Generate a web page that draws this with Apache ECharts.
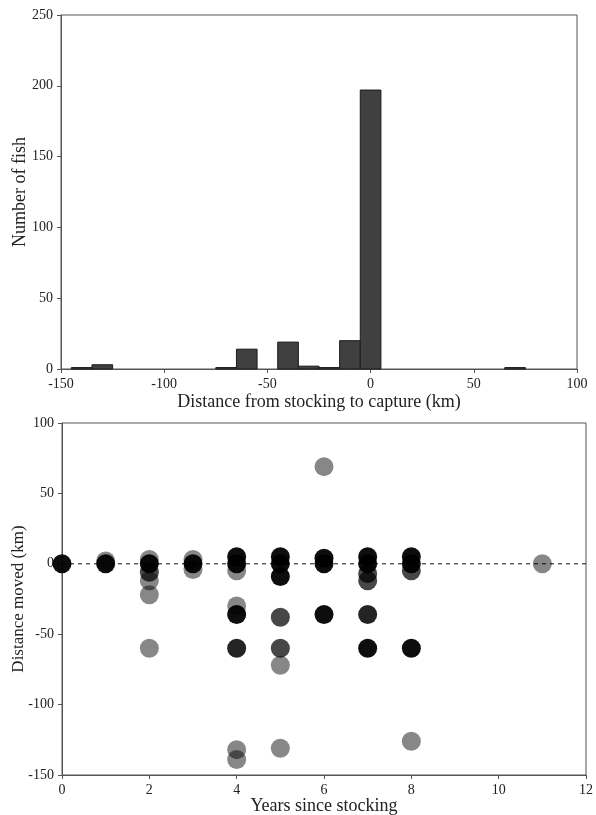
<!DOCTYPE html>
<html>
<head>
<meta charset="utf-8">
<script src="https://cdn.jsdelivr.net/npm/echarts@6/dist/echarts.min.js"></script>
<style>
  html, body { margin: 0; padding: 0; background: #fff; }
  #chart { width: 596px; height: 815px; }
</style>
</head>
<body>
<div id="chart"></div>
<script>
// Histogram: 10 km bins, labelled by bin centre (km)
const binCentres = [-140, -130, -70, -60, -40, -30, -20, -10, 0, 70];
const fishCounts = [1, 3, 1, 14, 19, 2, 1, 20, 197, 1];
const binWidth = 10;

// Distance moved (km) against years since stocking, split by shade group
const movesLight = [[1, 2], [2, 3], [2, -12], [2, -22], [2, -60], [3, 3], [3, -4],
  [4, -5], [4, -30], [4, -132], [4, -139], [5, -72], [5, -131], [6, 69], [8, -126], [11, 0]];
const movesMid = [[2, -6], [5, -38], [5, -60], [7, -7], [7, -12], [8, -5]];
const movesDeep = [[4, -60], [7, -36]];
const movesDark = [[0, 0], [1, 0], [2, 0], [3, 0], [4, 5], [4, 0], [4, -36], [5, 5], [5, 0],
  [5, -9], [6, 4], [6, 0], [6, -36], [7, 5], [7, 0], [7, -60], [8, 5], [8, 0], [8, -60]];

// Zero-movement reference line
const zeroLine = [[0, 0], [12, 0]];

const histTicks = { min: -150, max: 100, interval: 50 };
const countTicks = { min: 0, max: 250, interval: 50 };
const yearTicks = { min: 0, max: 12, interval: 2 };
const moveTicks = { min: -150, max: 100, interval: 50 };

const FONT = '"Liberation Serif", "DejaVu Serif", serif';
const axisColor = '#555';
const textColor = '#222';

function axisBase(extra, nameSize) {
  return Object.assign({
    axisLine: { show: true, onZero: false, lineStyle: { color: axisColor, width: 1 } },
    axisTick: { show: true, inside: false, length: 4, lineStyle: { color: axisColor } },
    axisLabel: { color: textColor, fontFamily: FONT, fontSize: 14, margin: 8 },
    splitLine: { show: false },
    nameTextStyle: { color: textColor, fontFamily: FONT, fontSize: nameSize || 18 },
    nameLocation: 'middle',
    nameMoveOverlap: false
  }, extra);
}

const chart = echarts.init(document.getElementById('chart'), null, { renderer: 'canvas' });

const histData = binCentres.map((c, i) => [c, fishCounts[i]]);

function scatterSeries(name, data, alpha, z) {
  return {
    name: name, type: 'scatter', xAxisIndex: 1, yAxisIndex: 1,
    data: data, symbolSize: 19, clip: true,
    itemStyle: { color: 'rgba(0,0,0,' + alpha + ')', opacity: 1 },
    emphasis: { disabled: true },
    z: z
  };
}

const option = {
  animation: false,
  backgroundColor: '#fff',
  grid: [
    { left: 61, right: 19, top: 15, bottom: 446, show: true, borderColor: axisColor, borderWidth: 1,
      backgroundColor: 'transparent', outerBoundsMode: 'none', containLabel: false },
    { left: 62, right: 10, top: 423, bottom: 40, show: true, borderColor: axisColor, borderWidth: 1,
      backgroundColor: 'transparent', outerBoundsMode: 'none', containLabel: false }
  ],
  xAxis: [
    axisBase({ gridIndex: 0, type: 'value', min: histTicks.min, max: histTicks.max, interval: histTicks.interval,
      name: 'Distance from stocking to capture (km)', nameGap: 24 }),
    axisBase({ gridIndex: 1, type: 'value', min: yearTicks.min, max: yearTicks.max, interval: yearTicks.interval,
      name: 'Years since stocking', nameGap: 22 })
  ],
  yAxis: [
    axisBase({ gridIndex: 0, type: 'value', min: countTicks.min, max: countTicks.max, interval: countTicks.interval,
      name: 'Number of fish', nameGap: 32 }),
    axisBase({ gridIndex: 1, type: 'value', min: moveTicks.min, max: moveTicks.max, interval: moveTicks.interval,
      name: 'Distance moved (km)', nameGap: 35 }, 17)
  ],
  series: [
    {
      type: 'custom',
      xAxisIndex: 0, yAxisIndex: 0,
      data: histData,
      encode: { x: 0, y: 1 },
      renderItem: function (params, api) {
        const c = api.value(0), n = api.value(1);
        const p0 = api.coord([c - binWidth / 2, 0]);
        const p1 = api.coord([c + binWidth / 2, n]);
        return {
          type: 'rect',
          shape: { x: p0[0], y: p1[1], width: p1[0] - p0[0], height: p0[1] - p1[1] },
          style: { fill: '#404040', stroke: '#1a1a1a', lineWidth: 1 }
        };
      }
    },
    {
      type: 'line',
      xAxisIndex: 1, yAxisIndex: 1,
      data: zeroLine,
      symbol: 'none',
      lineStyle: { color: '#111', width: 1, type: [4, 4] },
      z: 1
    },
    scatterSeries('light', movesLight, 0.47, 2),
    scatterSeries('mid', movesMid, 0.72, 3),
    scatterSeries('deep', movesDeep, 0.86, 4),
    scatterSeries('dark', movesDark, 0.95, 5)
  ]
};

chart.setOption(option);
</script>
</body>
</html>
